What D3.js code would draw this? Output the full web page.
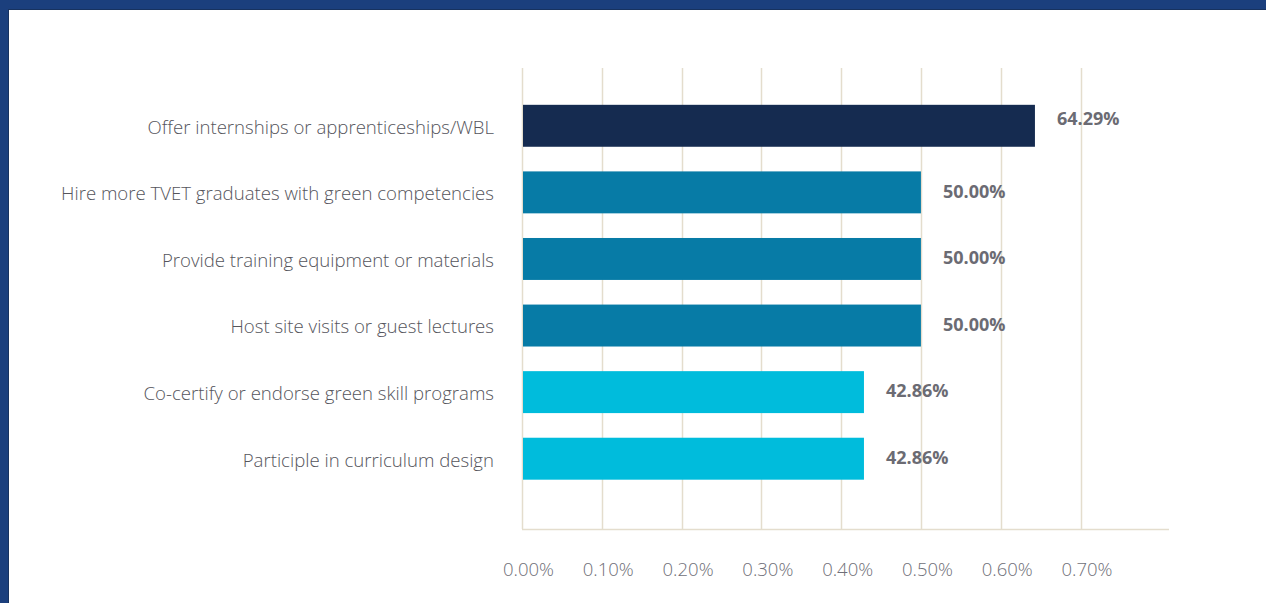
<!DOCTYPE html>
<html>
<head>
<meta charset="utf-8">
<script src="https://cdn.jsdelivr.net/npm/d3@7"></script>
<style>
  html, body { margin: 0; padding: 0; background: #fff; }
  svg { display: block; }
</style>
</head>
<body>
<svg id="chart" width="1266" height="603"></svg>
<script>
// Employer support actions, share of respondents
const categories = [
  "Offer internships or apprenticeships/WBL",
  "Hire more TVET graduates with green competencies",
  "Provide training equipment or materials",
  "Host site visits or guest lectures",
  "Co-certify or endorse green skill programs",
  "Participle in curriculum design"
];
const values = [0.6429, 0.50, 0.50, 0.50, 0.4286, 0.4286];
const barColors = ["#152b50", "#077ba6", "#077ba6", "#077ba6", "#00bcdc", "#00bcdc"];
const tickValues = [0, 0.1, 0.2, 0.3, 0.4, 0.5, 0.6, 0.7];
const tickLabels = ["0.00%", "0.10%", "0.20%", "0.30%", "0.40%", "0.50%", "0.60%", "0.70%"];

const svg = d3.select("#chart");
const W = 1266, H = 603;

// page frame
svg.append("rect").attr("x", 0).attr("y", 0).attr("width", W).attr("height", H).attr("fill", "#1b3f7d");
svg.append("rect").attr("x", 8).attr("y", 9).attr("width", W - 8).attr("height", H - 9).attr("fill", "#17325f");
svg.append("rect").attr("x", 9).attr("y", 10).attr("width", W - 9).attr("height", H - 10).attr("fill", "#ffffff");

const x = d3.scaleLinear().domain([0, 0.7]).range([522, 1080.5]);
const y = d3.scaleBand().domain(categories).range([92.5, 492]).paddingInner(0.37).paddingOuter(0.185);

const gridTop = 68, gridBottom = 529;

// vertical gridlines
svg.append("g")
  .selectAll("line")
  .data(tickValues)
  .join("line")
  .attr("x1", d => Math.round(x(d)) + 0.5)
  .attr("x2", d => Math.round(x(d)) + 0.5)
  .attr("y1", gridTop)
  .attr("y2", gridBottom)
  .attr("stroke", "#e4ddcd")
  .attr("stroke-width", 1.5);

// baseline
svg.append("line")
  .attr("x1", x(0)).attr("x2", 1169)
  .attr("y1", gridBottom + 0.5).attr("y2", gridBottom + 0.5)
  .attr("stroke", "#e4ddcd").attr("stroke-width", 1.5);

// bottom axis tick labels
const xAxis = d3.axisBottom(x)
  .tickValues(tickValues)
  .tickFormat((d, i) => tickLabels[i])
  .tickSize(0)
  .tickPadding(0);
const gx = svg.append("g").attr("transform", `translate(6, 563)`).call(xAxis);
gx.select(".domain").remove();
gx.selectAll("text")
  .attr("font-family", "'Open Sans', sans-serif")
  .attr("font-weight", 300)
  .attr("font-size", 18.5)
  .attr("fill", "#6f6f78");

// bars
svg.append("g")
  .selectAll("rect")
  .data(categories)
  .join("rect")
  .attr("x", x(0) + 1)
  .attr("y", d => y(d))
  .attr("width", (d, i) => x(values[i]) - x(0) - 1)
  .attr("height", y.bandwidth())
  .attr("fill", (d, i) => barColors[i]);

// category labels
const yAxis = d3.axisLeft(y).tickSize(0).tickPadding(0);
const gy = svg.append("g").attr("transform", "translate(494,2)").call(yAxis);
gy.select(".domain").remove();
gy.selectAll("text")
  .attr("font-family", "'Open Sans', sans-serif")
  .attr("font-weight", 300)
  .attr("font-size", 18.6)
  .attr("fill", "#55555c");

// value labels
svg.append("g")
  .selectAll("text")
  .data(categories)
  .join("text")
  .attr("x", (d, i) => x(values[i]) + 22)
  .attr("y", (d, i) => y(d) + y.bandwidth() / 2 - (i === 0 ? 7 : 1))
  .attr("dy", "0.35em")
  .attr("font-family", "'Open Sans', sans-serif")
  .attr("font-weight", 700)
  .attr("font-size", 18)
  .attr("fill", "#6b6b73")
  .text((d, i) => d3.format(".2%")(values[i]));
</script>
</body>
</html>
